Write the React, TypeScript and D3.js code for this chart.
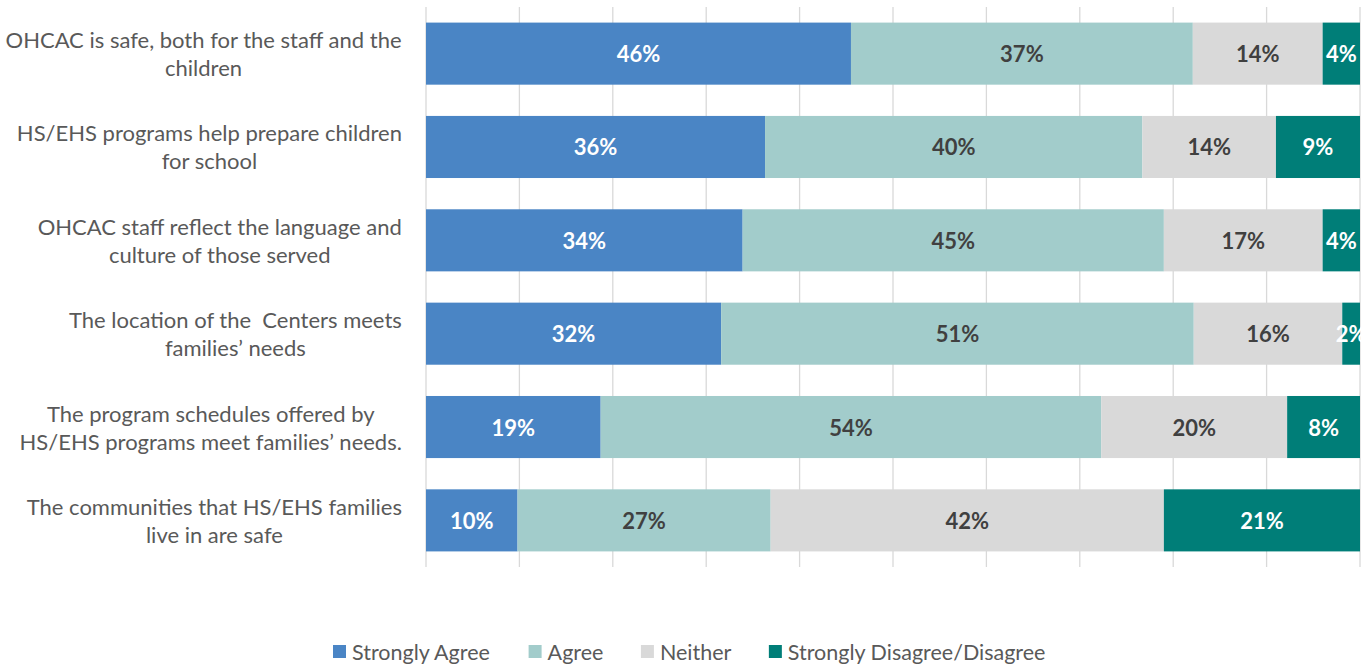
import React from "react";
import * as d3 from "d3";

const categories = [
  ["OHCAC is safe, both for the staff and the", "children"],
  ["HS/EHS programs help prepare children", "for school"],
  ["OHCAC staff reflect the language and", "culture of those served"],
  ["The location of the  Centers meets", "families\u2019 needs"],
  ["The program schedules offered by", "HS/EHS programs meet families\u2019 needs."],
  ["The communities that HS/EHS families", "live in are safe"],
];
const seriesNames = ["Strongly Agree", "Agree", "Neither", "Strongly Disagree/Disagree"];
const stronglyAgree = [45.5, 36.3, 33.9, 31.6, 18.7, 9.8];
const agree = [36.6, 40.4, 45.1, 50.6, 53.6, 27.1];
const neither = [13.9, 14.3, 17.0, 15.9, 19.9, 42.1];
const disagree = [4.0, 9.0, 4.0, 1.9, 7.8, 21.0];
const xTicks = [0, 10, 20, 30, 40, 50, 60, 70, 80, 90, 100];

const colors = ["#4A85C5", "#A2CCCB", "#D9D9D9", "#007E78"];
const labelColors = ["#FFFFFF", "#404040", "#404040", "#FFFFFF"];
const FONT = "Lato, 'Open Sans', sans-serif";

let ctx: CanvasRenderingContext2D | null = null;
function measure(text: string, size: number, weight = "normal") {
  if (!ctx) ctx = document.createElement("canvas").getContext("2d");
  ctx!.font = `${weight} ${size}px Lato`;
  return ctx!.measureText(text).width;
}

export default function App() {
  const W = 1369, H = 664;
  const x = d3.scaleLinear().domain([0, 100]).range([426, 1360]);
  const idx = categories.map((_, i) => String(i));
  const y = d3.scaleBand().domain(idx).range([7, 567]).paddingInner(0.335).paddingOuter(0.167);

  const rows = categories.map((_, i) => ({
    key: String(i),
    s0: stronglyAgree[i], s1: agree[i], s2: neither[i], s3: disagree[i],
  }));
  const stack = d3.stack<any>().keys(["s0", "s1", "s2", "s3"])(rows);

  const catSize = 22;
  const legSize = 21.5;
  const legendItems = seriesNames.map((n) => ({ n, w: measure(n, legSize) }));
  const sq = 13, sqGap = 6;
  const legLeft = 333, legRight = 1046;
  const itemsW = legendItems.reduce((a, it) => a + sq + sqGap + it.w, 0);
  const itemGap = (legRight - legLeft - itemsW) / (legendItems.length - 1);
  let lx = legLeft;
  const legendPos = legendItems.map((it) => {
    const p = lx;
    lx += sq + sqGap + it.w + itemGap;
    return p;
  });
  const legY = 651.5;

  return (
    <svg width={W} height={H} style={{ position: "absolute", left: 0, top: 0 }} fontFamily={FONT}>
      <rect width={W} height={H} fill="#fff" />
      {xTicks.map((t) => (
        <line key={t} x1={x(t)} x2={x(t)} y1={7} y2={567} stroke="#D9D9D9" strokeWidth={1.3} />
      ))}
      {stack.map((s, si) => (
        <g key={si}>
          {s.map((d: any, i: number) => (
            <rect key={i} x={x(d[0])} y={y(String(i))!} width={x(d[1]) - x(d[0])} height={y.bandwidth()} fill={colors[si]} />
          ))}
        </g>
      ))}
      {stack.map((s, si) => (
        <g key={"l" + si}>
          {s.map((d: any, i: number) => (
            <text key={i} x={(x(d[0]) + x(d[1])) / 2} y={y(String(i))! + y.bandwidth() / 2} textAnchor="middle" dominantBaseline="central" fontSize={22} fontWeight="bold" fill={labelColors[si]}>
              {Math.round(d[1] - d[0])}%
            </text>
          ))}
        </g>
      ))}
      {categories.map((lines, i) => {
        const bw = Math.max(...lines.map((l) => measure(l, catSize)));
        const cx = 402 - bw / 2;
        const cy = y(String(i))! + y.bandwidth() / 2;
        return (
          <g key={i}>
            {lines.map((l, li) => (
              <text key={li} x={cx} y={cy + (li - (lines.length - 1) / 2) * 28} textAnchor="middle" dominantBaseline="central" fontSize={catSize} fill="#595959" style={{ whiteSpace: "pre" }}>
                {l}
              </text>
            ))}
          </g>
        );
      })}
      {legendItems.map((it, i) => (
        <g key={i}>
          <rect x={legendPos[i]} y={legY - sq / 2} width={sq} height={sq} fill={colors[i]} />
          <text x={legendPos[i] + sq + sqGap} y={legY} dominantBaseline="central" fontSize={legSize} fill="#595959">{it.n}</text>
        </g>
      ))}
    </svg>
  );
}
